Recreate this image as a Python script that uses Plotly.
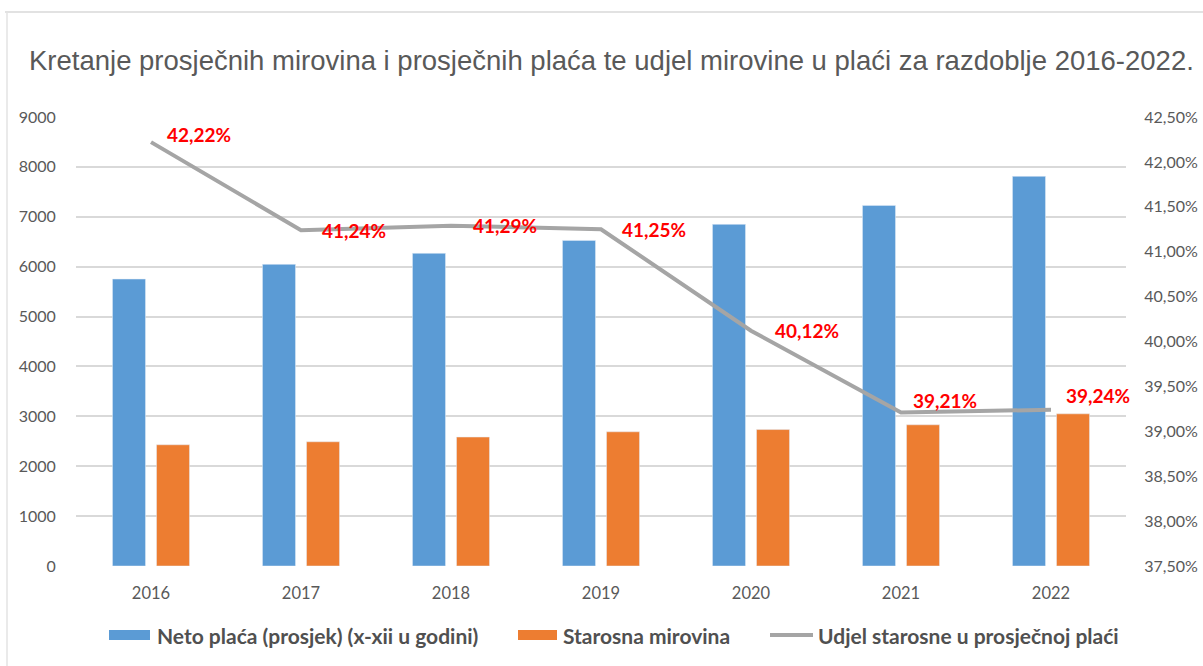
import plotly.graph_objects as go

years = ["2016", "2017", "2018", "2019", "2020", "2021", "2022"]
neto_placa = [5752, 6046, 6267, 6527, 6848, 7228, 7810]
starosna_mirovina = [2430, 2490, 2585, 2690, 2735, 2830, 3050]
udjel = [42.22, 41.24, 41.29, 41.25, 40.12, 39.21, 39.24]

left_ticks = [0, 1000, 2000, 3000, 4000, 5000, 6000, 7000, 8000, 9000]
right_ticks = [37.5, 38.0, 38.5, 39.0, 39.5, 40.0, 40.5, 41.0, 41.5, 42.0, 42.5]

series_names = ["Neto plaća (prosjek) (x-xii u godini)", "Starosna mirovina",
                "Udjel starosne u prosječnoj plaći"]

# label pixel shifts (style only)
label_dx = [14, 19, 20, 19, 22, 10, 13]
label_dy = [8, 0, 0, 0, 0, 12, 14]

BLUE = "#5B9BD5"
ORANGE = "#ED7D31"
GREY = "#A5A5A5"
TXT = "#595959"
FONT = "Lato, Open Sans, sans-serif"

W, H = 1203, 666
L, R, T, B = 76, 1126, 117, 566

fig = go.Figure()
fig.add_trace(go.Bar(x=years, y=neto_placa, name=series_names[0], marker_color=BLUE,
                     showlegend=False))
fig.add_trace(go.Bar(x=years, y=starosna_mirovina, name=series_names[1], marker_color=ORANGE,
                     showlegend=False))
fig.add_trace(go.Scatter(x=years, y=udjel, name=series_names[2], yaxis="y2", mode="lines",
                         line=dict(color=GREY, width=4), showlegend=False))

def fmt_pct(v):
    return f"{v:.2f}".replace(".", ",") + "%"

annotations = []
for i, (v, dx, dy) in enumerate(zip(udjel, label_dx, label_dy)):
    annotations.append(dict(x=i, y=v, xref="x", yref="y2", text="<b>" + fmt_pct(v) + "</b>",
                            showarrow=False, xanchor="left", yanchor="middle",
                            xshift=dx, yshift=dy,
                            font=dict(family=FONT, size=19, color="#FF0000")))

def px_x(p):
    return (p - L) / (R - L)

def px_y(p):
    return (B - p) / (B - T)

# title
annotations.append(dict(text="Kretanje prosječnih mirovina i prosječnih plaća te udjel mirovine u plaći za razdoblje 2016-2022.",
                        xref="paper", yref="paper", x=px_x(27), y=px_y(60),
                        xanchor="left", yanchor="middle", showarrow=False,
                        font=dict(family="Liberation Sans, Arial", size=27.5, color=TXT)))

shapes = []
# custom legend
leg_y = 635
legend_items = [
    ("rect", BLUE, 109, 150, 155, series_names[0]),
    ("rect", ORANGE, 518, 557, 561, series_names[1]),
    ("line", GREY, 770, 813, 816, series_names[2]),
]
for kind, col, x0, x1, tx, name in legend_items:
    if kind == "rect":
        shapes.append(dict(type="rect", xref="paper", yref="paper", x0=px_x(x0), x1=px_x(x1),
                           y0=px_y(leg_y + 5), y1=px_y(leg_y - 5), fillcolor=col, line=dict(width=0)))
    else:
        shapes.append(dict(type="line", xref="paper", yref="paper", x0=px_x(x0), x1=px_x(x1),
                           y0=px_y(leg_y), y1=px_y(leg_y), line=dict(color=col, width=4)))
    annotations.append(dict(text="<b>" + name + "</b>", xref="paper", yref="paper", x=px_x(tx),
                            y=px_y(leg_y), xanchor="left", yanchor="middle", showarrow=False,
                            font=dict(family=FONT, size=21, color="#505050")))

# faint sheet frame
shapes.append(dict(type="line", xref="paper", yref="paper", x0=px_x(5), x1=px_x(1203),
                   y0=px_y(12), y1=px_y(12), line=dict(color="#D9D9D9", width=1.5)))
shapes.append(dict(type="line", xref="paper", yref="paper", x0=px_x(7), x1=px_x(7),
                   y0=px_y(12), y1=px_y(666), line=dict(color="#E3E3E3", width=1.5)))

fig.update_layout(
    width=W, height=H,
    margin=dict(l=L, r=W - R, t=T, b=H - B, autoexpand=False),
    paper_bgcolor="white", plot_bgcolor="white",
    barmode="group", bargap=0.413, bargroupgap=0.25,
    showlegend=False,
    font=dict(family=FONT, size=16, color=TXT),
    xaxis=dict(type="category", range=[-0.5, len(years) - 0.5], showgrid=False, showline=False,
               automargin=False, ticks="outside", ticklen=12, tickcolor="rgba(0,0,0,0)",
               tickfont=dict(size=16.5, color=TXT)),
    yaxis=dict(range=[0, 9000], tickvals=left_ticks, ticktext=[str(t) for t in left_ticks],
               showgrid=True, gridcolor="#D9D9D9", gridwidth=1.5, zeroline=False, automargin=False,
               showline=False, ticks="outside", ticklen=16, tickcolor="rgba(0,0,0,0)",
               tickfont=dict(size=16, color=TXT)),
    yaxis2=dict(range=[37.5, 42.5], overlaying="y", side="right", tickvals=right_ticks,
                ticktext=[fmt_pct(t) for t in right_ticks], showgrid=False, zeroline=False,
                automargin=False, showline=False, ticks="outside", ticklen=14,
                tickcolor="rgba(0,0,0,0)", tickfont=dict(size=16, color=TXT)),
    annotations=annotations,
    shapes=shapes,
)

fig.write_html("out.html", config={"displayModeBar": False},
               post_script="document.body.style.margin='0';")
